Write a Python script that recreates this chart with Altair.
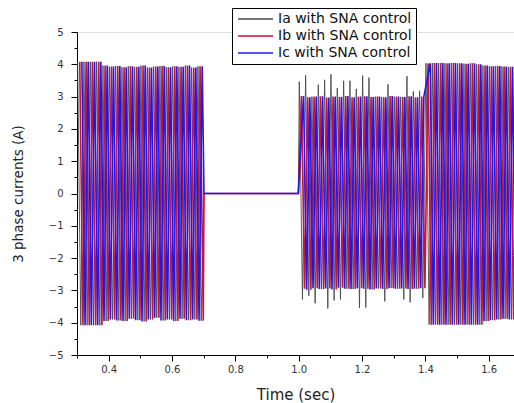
import altair as alt
import numpy as np
import pandas as pd

# ---------------- data ----------------
series_names = ["Ia with SNA control", "Ib with SNA control", "Ic with SNA control"]
series_colors = ["#4a4a4a", "#cc1036", "#1a1af0"]
series_widths = [0.9, 1.6, 1.6]
phase_offsets = [0.002, 0.00867, 0.01533]     # s, 120 degree shift at 50 Hz
half_cycle = 0.01                              # s between successive peaks of one phase

seg_start = [0.30, 1.00, 1.40]
seg_end = [0.70, 1.40, 1.69]
env_step = 0.02
# upper / lower peak envelopes sampled every 0.02 s in each segment
upper_env = [
    [4.08, 4.08, 4.08, 4.08, 3.96, 3.93, 3.95, 3.91, 3.94, 3.92,
     3.96, 3.90, 3.93, 3.95, 3.91, 3.94, 3.92, 3.96, 3.90, 3.94],
    [3.02, 2.98, 3.00, 3.01, 2.97, 3.00, 2.99, 3.02, 2.98, 3.00,
     3.01, 2.99, 3.00, 2.98, 3.02, 3.00, 2.99, 3.01, 2.98, 3.00],
    [4.03, 4.04, 4.04, 4.03, 4.04, 4.03, 4.02, 4.03, 4.00, 3.96,
     3.94, 3.95, 3.93, 3.92, 3.94],
]
lower_env = [
    [-4.08, -4.08, -4.08, -4.08, -3.95, -3.90, -3.93, -3.95, -3.88, -3.92,
     -3.96, -3.90, -3.85, -3.93, -3.90, -3.95, -3.88, -3.92, -3.90, -3.94],
    [-2.95, -2.98, -2.93, -2.96, -2.94, -2.97, -2.92, -2.95, -2.96, -2.93,
     -2.95, -2.97, -2.94, -2.96, -2.93, -2.95, -2.94, -2.96, -2.95, -2.93],
    [-4.06, -4.06, -4.06, -4.06, -4.06, -4.06, -4.06, -4.06, -4.06, -3.95,
     -3.92, -3.90, -3.88, -3.90, -3.88],
]
zero_t = [0.701, 0.999]        # control off: all currents at 0
# overshoot peaks of Ia in the 1.0-1.4 s segment
spike_up_t = [1.004, 1.015, 1.056, 1.088, 1.094, 1.107, 1.126, 1.135, 1.148,
              1.154, 1.217, 1.280, 1.350, 1.362, 1.378]
spike_up_v = [3.46, 3.66, 3.37, 3.52, 3.69, 3.26, 3.49, 3.49, 3.24,
              3.65, 3.59, 3.38, 3.63, 3.16, 3.18]
spike_dn_t = [1.005, 1.016, 1.057, 1.089, 1.108, 1.136, 1.189, 1.218, 1.281,
              1.328, 1.351, 1.385]
spike_dn_v = [-3.28, -3.17, -3.40, -3.56, -3.31, -3.28, -3.54, -3.53, -3.34,
              -3.28, -3.37, -3.24]

x_ticks = [0.3, 0.4, 0.5, 0.6, 0.7, 0.8, 0.9, 1.0, 1.1, 1.2, 1.3, 1.4, 1.5, 1.6]
y_ticks = [-5, -4.5, -4, -3.5, -3, -2.5, -2, -1.5, -1, -0.5, 0,
           0.5, 1, 1.5, 2, 2.5, 3, 3.5, 4, 4.5, 5]

# ---------------- build table ----------------
rows = []
for p, name in enumerate(series_names):
    for s in range(3):
        k = 0
        while True:
            t = seg_start[s] + phase_offsets[p] + k * half_cycle
            if t >= seg_end[s]:
                break
            idx = min(int((t - seg_start[s]) / env_step), len(upper_env[s]) - 1)
            v = upper_env[s][idx] if k % 2 == 0 else lower_env[s][idx]
            rows.append({"t": round(t, 5), "v": v, "series": name})
            k += 1
    for zt in zero_t:
        rows.append({"t": zt, "v": 0.0, "series": name})
df = pd.DataFrame(rows)

# put the Ia overshoots on the nearest free Ia peak of the same sign
ia_seg2 = df[(df.series == series_names[0]) & (df.t >= 1.0) & (df.t < 1.4)]
used = set()
for times, vals, sign in ((spike_up_t, spike_up_v, 1), (spike_dn_t, spike_dn_v, -1)):
    cand = ia_seg2[np.sign(ia_seg2.v) == sign]
    for ts, vs in zip(times, vals):
        order = (cand.t - ts).abs().sort_values().index
        for i in order:
            if i not in used:
                used.add(i)
                df.loc[i, "v"] = vs
                break

df["w"] = df["series"].map(dict(zip(series_names, series_widths)))

FONT = "DejaVu Sans"

chart = alt.Chart(df).mark_line(clip=True).encode(
    x=alt.X("t:Q",
            scale=alt.Scale(domain=[0.3, 1.68], nice=False, zero=False),
            axis=alt.Axis(values=x_ticks, title="Time (sec)",
                          labelExpr="round(datum.value*10) % 2 == 0 ? format(datum.value, '.1f') : ''",
                          tickSize={"condition": {"test": "round(datum.value*10) % 2 == 0", "value": 6}, "value": 3},
                          grid=False, domainColor="black", tickColor="black",
                          labelFont=FONT, labelFontSize=10, labelColor="#333",
                          labelPadding=3,
                          titleFont=FONT, titleFontSize=15, titleFontWeight="normal",
                          titleColor="#222", titleBaseline="middle", titleY=39)),
    y=alt.Y("v:Q",
            scale=alt.Scale(domain=[-5, 5], nice=False),
            axis=alt.Axis(values=y_ticks, title="3 phase currents (A)",
                          labelExpr="datum.value % 1 == 0 ? format(datum.value, 'd') : ''",
                          tickSize={"condition": {"test": "datum.value % 1 == 0", "value": 6}, "value": 3},
                          grid=False, domainColor="black", tickColor="black",
                          labelFont=FONT, labelFontSize=10, labelColor="#333",
                          labelPadding=8,
                          titleFont=FONT, titleFontSize=13.5, titleFontWeight="normal",
                          titleColor="#222", titleAngle=270, titleBaseline="middle",
                          titleAlign="center", titleX=-59, titleY=161.5)),
    color=alt.Color("series:N",
                    scale=alt.Scale(domain=series_names, range=series_colors),
                    legend=alt.Legend(orient="none", legendX=155, legendY=-24,
                                      title=None, strokeColor="black", fillColor="white",
                                      padding=4, rowPadding=3,
                                      symbolType="M-1,0H6", symbolSize=100,
                                      symbolStrokeWidth=1.5, labelOffset=28,
                                      labelFont=FONT, labelFontSize=14,
                                      labelColor="#111", labelLimit=400)),
    strokeWidth=alt.StrokeWidth("w:Q", scale=None, legend=None),
).properties(
    width=437, height=323,
    padding={"left": 77, "top": 32, "right": 0, "bottom": 48},
    autosize=alt.AutoSizeParams(type="none"),
).configure_view(stroke=None).configure(background="white")

chart.save("out.html", embed_options={"renderer": "svg", "actions": False})
